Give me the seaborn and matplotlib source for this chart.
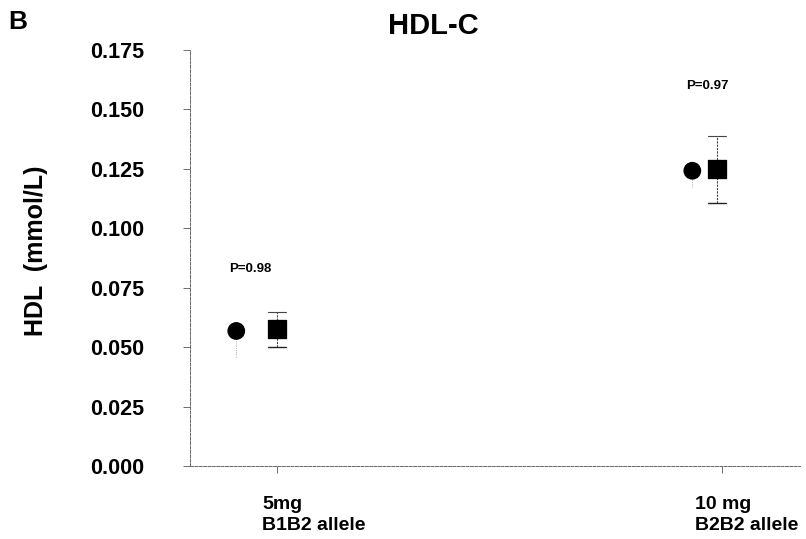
import matplotlib
matplotlib.use("Agg")
import matplotlib.pyplot as plt
import matplotlib.transforms as mtransforms
import seaborn as sns
import pandas as pd
import numpy as np

# ---- data ----
groups = ["5mg\nB1B2 allele", "10 mg\nB2B2 allele"]
circle_mean = [0.0568, 0.1242]
circle_low = [0.0459, 0.1174]
square_mean = [0.0577, 0.1250]
square_low = [0.0501, 0.1107]
square_high = [0.0648, 0.1389]
p_labels = ["P=0.98", "P=0.97"]
p_heights = [0.0829, 0.1597]
yticks = [0.000, 0.025, 0.050, 0.075, 0.100, 0.125, 0.150, 0.175]

sns.set_style("white")
plt.rcParams["font.family"] = ["Liberation Sans", "DejaVu Sans"]
plt.rcParams["font.weight"] = "bold"
for k in ["text.color", "axes.labelcolor", "xtick.color", "ytick.color"]:
    plt.rcParams[k] = "black"

fig = plt.figure(figsize=(8.06, 5.39), dpi=100)
ax = fig.add_axes([190 / 806, 1 - 466 / 539, 610 / 806, 416 / 539])

pos = np.arange(len(groups))
circ_off = [-0.092, -0.067]
sq_off = [0.0, -0.011]
lab_off = [-0.034, -0.061]

df = pd.DataFrame({
    "x": np.concatenate([pos + np.array(circ_off), pos + np.array(sq_off)]),
    "y": circle_mean + square_mean,
    "kind": ["circle"] * 2 + ["square"] * 2,
})

# error bars
cap = 0.02
for i in range(len(groups)):
    xc = pos[i] + circ_off[i]
    ax.plot([xc, xc], [circle_low[i], circle_mean[i]], color="#999999", lw=0.6, ls=":", zorder=1)
    xs = pos[i] + sq_off[i]
    ax.plot([xs, xs], [square_low[i], square_high[i]], color="#444444", lw=0.8, ls=(0, (2, 1)), zorder=1)
    ax.plot([xs - cap, xs + cap], [square_low[i]] * 2, color="#222222", lw=1.0, zorder=1)
    ax.plot([xs - cap, xs + cap], [square_high[i]] * 2, color="#444444", lw=0.8, zorder=1)

sns.scatterplot(data=df, x="x", y="y", style="kind", markers={"circle": "o", "square": "s"},
                s=[140, 140, 160, 160], color="black", edgecolor="black", legend=False, ax=ax, zorder=3)

for i in range(len(groups)):
    ax.text(pos[i] + circ_off[i] - 0.015, p_heights[i], p_labels[i], fontsize=9.5,
            fontweight="bold", ha="left", va="center")

ax.set_xlim(-0.196, 1.175)
ax.set_ylim(0, 0.175)
ax.set_yticks(yticks)
ax.set_yticklabels([f"{v:.3f}" for v in yticks], fontsize=15.5, fontweight="bold")
ax.set_xticks(pos)
ax.set_xticklabels([])
ax.tick_params(axis="y", direction="out", length=5, width=0.6, color="#555555", pad=28, left=True)
ax.tick_params(axis="x", direction="out", length=5, width=0.6, color="#555555", bottom=True)

trans = mtransforms.blended_transform_factory(ax.transData, ax.transAxes)
for i in range(len(groups)):
    ax.text(pos[i] + lab_off[i], -0.072, groups[i], transform=trans, ha="left", va="top",
            fontsize=14, fontweight="bold", linespacing=1.3)

for s in ["top", "right"]:
    ax.spines[s].set_visible(False)
for s in ["left", "bottom"]:
    ax.spines[s].set_color("#666666")
    ax.spines[s].set_linewidth(0.7)
    ax.spines[s].set_linestyle((0, (3, 1.5)))

ax.set_xlabel("")
ax.set_ylabel("")
fig.text(36 / 806, 1 - 251 / 539, "HDL  (mmol/L)", rotation=90, fontsize=18, fontweight="bold",
         ha="center", va="center")

fig.text(433 / 806, 1 - 26 / 539, "HDL-C", fontsize=21, fontweight="bold", ha="center", va="center")
fig.text(18 / 806, 1 - 22 / 539, "B", fontsize=19, fontweight="bold", ha="center", va="center")

fig.savefig("out.png", dpi=100)
